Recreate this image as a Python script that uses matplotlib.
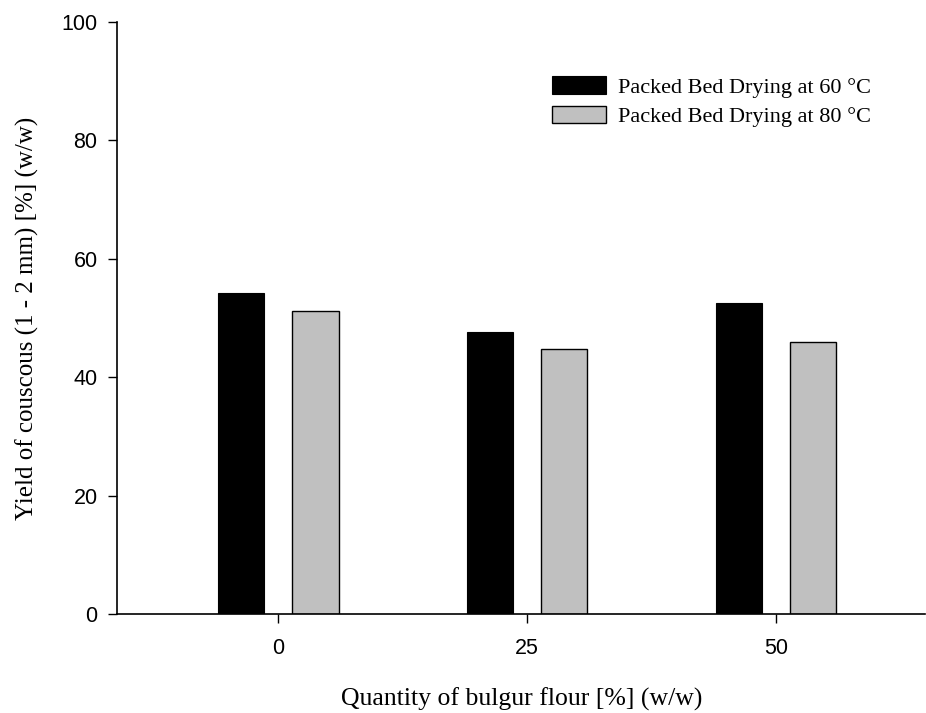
import numpy as np
import matplotlib
matplotlib.use("Agg")
import matplotlib.pyplot as plt

#data
categories = ["0", "25", "50"]
yield_60 = [54.2, 47.6, 52.5]
yield_80 = [51.2, 44.8, 46.0]
labels = ["Packed Bed Drying at 60 °C", "Packed Bed Drying at 80 °C"]
y_ticks = [0, 20, 40, 60, 80, 100]

fig = plt.figure(figsize=(9.26, 7.13), dpi=100)
ax = fig.add_axes([0.1264, 0.1388, 0.873, 0.8303])

x = np.arange(len(categories))
width = 0.185
offset = 0.15

ax.bar(x - offset, yield_60, width, color="black", edgecolor="black", linewidth=0.8, label=labels[0])
ax.bar(x + offset, yield_80, width, color="#c0c0c0", edgecolor="black", linewidth=1.0, label=labels[1])

ax.set_xlim(-0.647, 2.6)
ax.set_ylim(0, 100)
ax.set_xticks(x)
ax.set_xticklabels(categories)
ax.set_yticks(y_ticks)

for s in ["top", "right"]:
    ax.spines[s].set_visible(False)
for s in ["left", "bottom"]:
    ax.spines[s].set_linewidth(1.2)

ax.tick_params(axis="both", direction="out", length=6.5, width=1.0,
               labelsize=15.5, labelfontfamily="Liberation Sans")
ax.tick_params(axis="x", pad=11)
ax.tick_params(axis="y", pad=7.5)

ax.set_xlabel("Quantity of bulgur flour [%] (w/w)", fontfamily="Liberation Serif",
              fontsize=18.5, labelpad=20)
ax.set_ylabel("Yield of couscous (1 - 2 mm) [%] (w/w)", fontfamily="Liberation Serif",
              fontsize=18, labelpad=16)

ax.legend(loc="upper left", bbox_to_anchor=(0.513, 0.942), frameon=False,
          prop={"family": "Liberation Serif", "size": 16},
          handlelength=2.45, handleheight=0.85, handletextpad=0.55, labelspacing=0.35)

plt.savefig("out.png", dpi=100)
